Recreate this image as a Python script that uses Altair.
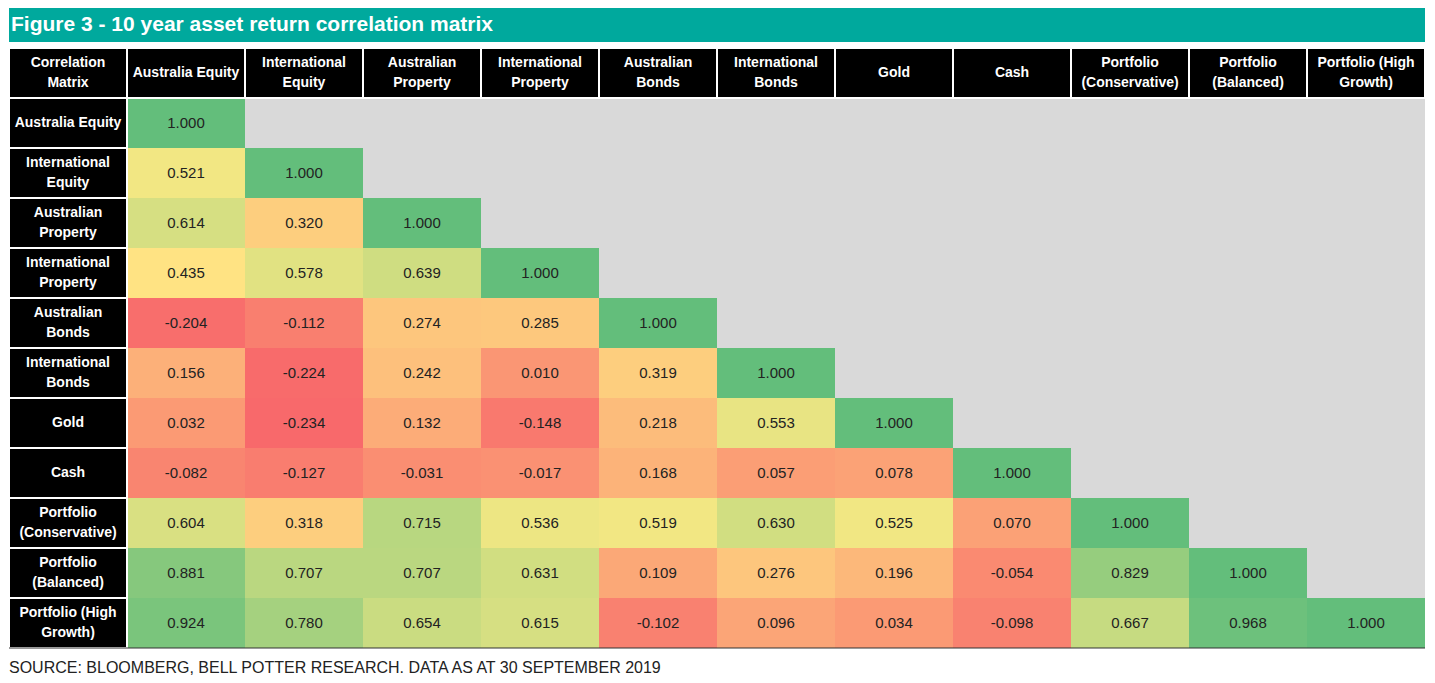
import altair as alt
import pandas as pd

title_text = "Figure 3 - 10 year asset return correlation matrix"
source_text = "SOURCE: BLOOMBERG, BELL POTTER RESEARCH. DATA AS AT 30 SEPTEMBER 2019"
corner_label = "Correlation\nMatrix"

assets = ["Australia Equity", "International Equity", "Australian Property",
          "International Property", "Australian Bonds", "International Bonds",
          "Gold", "Cash", "Portfolio (Conservative)", "Portfolio (Balanced)",
          "Portfolio (High Growth)"]
asset_labels = ["Australia Equity", "International\nEquity", "Australian\nProperty",
                "International\nProperty", "Australian\nBonds", "International\nBonds",
                "Gold", "Cash", "Portfolio\n(Conservative)", "Portfolio\n(Balanced)",
                "Portfolio (High\nGrowth)"]

corr_australia_equity = [1.000]
corr_international_equity = [0.521, 1.000]
corr_australian_property = [0.614, 0.320, 1.000]
corr_international_property = [0.435, 0.578, 0.639, 1.000]
corr_australian_bonds = [-0.204, -0.112, 0.274, 0.285, 1.000]
corr_international_bonds = [0.156, -0.224, 0.242, 0.010, 0.319, 1.000]
corr_gold = [0.032, -0.234, 0.132, -0.148, 0.218, 0.553, 1.000]
corr_cash = [-0.082, -0.127, -0.031, -0.017, 0.168, 0.057, 0.078, 1.000]
corr_portfolio_conservative = [0.604, 0.318, 0.715, 0.536, 0.519, 0.630, 0.525, 0.070, 1.000]
corr_portfolio_balanced = [0.881, 0.707, 0.707, 0.631, 0.109, 0.276, 0.196, -0.054, 0.829, 1.000]
corr_portfolio_high_growth = [0.924, 0.780, 0.654, 0.615, -0.102, 0.096, 0.034, -0.098, 0.667, 0.968, 1.000]

corr_rows = [corr_australia_equity, corr_international_equity, corr_australian_property,
             corr_international_property, corr_australian_bonds, corr_international_bonds,
             corr_gold, corr_cash, corr_portfolio_conservative, corr_portfolio_balanced,
             corr_portfolio_high_growth]

# Excel-style 3-colour scale: min / 50th percentile / max
color_min, color_mid, color_max = -0.234, 0.477, 1.000

FONT = "Liberation Sans"
HDR = "__header"
LBL = "__label"

cells = []
for i, row in enumerate(corr_rows):
    for j, v in enumerate(row):
        cells.append({"row": assets[i], "col": assets[j], "value": v, "label": f"{v:.3f}"})
cells_df = pd.DataFrame(cells)

heads = [{"row": HDR, "col": LBL, "text": corner_label}]
for j, a in enumerate(assets):
    heads.append({"row": HDR, "col": a, "text": asset_labels[j]})
for i, a in enumerate(assets):
    heads.append({"row": a, "col": LBL, "text": asset_labels[i]})
heads_df = pd.DataFrame(heads)

# split header texts into lines (single line / first of two / second of two)
single, first, second = [], [], []
for h in heads:
    parts = h["text"].split("\n")
    if len(parts) == 1:
        single.append({"row": h["row"], "col": h["col"], "t": parts[0]})
    else:
        first.append({"row": h["row"], "col": h["col"], "t": parts[0]})
        second.append({"row": h["row"], "col": h["col"], "t": parts[1]})

x_dom = [LBL] + assets
y_dom = [HDR] + assets
xs = alt.Scale(domain=x_dom, paddingInner=0, paddingOuter=0)
ys = alt.Scale(domain=y_dom, paddingInner=0, paddingOuter=0)

X = alt.X("col:N", scale=xs, axis=None, sort=x_dom)
Y = alt.Y("row:N", scale=ys, axis=None, sort=y_dom)

cell_rect = alt.Chart(cells_df).mark_rect().encode(
    x=X, y=Y,
    color=alt.Color("value:Q", legend=None,
                    scale=alt.Scale(domain=[color_min, color_mid, color_max],
                                    range=["#F8696B", "#FFEB84", "#63BE7B"],
                                    interpolate="rgb")),
)
cell_text = alt.Chart(cells_df).mark_text(font=FONT, fontSize=15, color="#222222").encode(
    x=X, y=Y, text="label:N"
)
head_rect = alt.Chart(heads_df).mark_rect(fill="#000000", stroke="#FFFFFF", strokeWidth=2).encode(
    x=X, y=Y
)


def head_text(rows, dy):
    return alt.Chart(pd.DataFrame(rows)).mark_text(
        font=FONT, fontSize=14, fontWeight="bold", color="#FFFFFF",
        baseline="middle", dy=dy
    ).encode(x=X, y=Y, text="t:N")


bottom_rule = alt.Chart(pd.DataFrame({"row": [assets[-1]]})).mark_rule(
    color="#333333", strokeWidth=1
).encode(y=alt.Y("row:N", scale=ys, axis=None, sort=y_dom, bandPosition=1))

table = alt.layer(
    cell_rect, head_rect, cell_text,
    head_text(single, 0), head_text(first, -10), head_text(second, 10),
    bottom_rule
).properties(
    width=1416, height=600,
    view=alt.ViewBackground(fill="#D9D9D9", strokeWidth=0),
)

title_chart = alt.Chart(pd.DataFrame({"t": [title_text]})).mark_text(
    font=FONT, fontSize=21, fontWeight="bold", color="#FFFFFF",
    align="left", baseline="middle"
).encode(text="t:N", x=alt.value(2), y=alt.value(17)).properties(
    width=1416, height=34,
    view=alt.ViewBackground(fill="#00A99D", strokeWidth=0),
)

source_chart = alt.Chart(pd.DataFrame({"t": [source_text]})).mark_text(
    font=FONT, fontSize=16, color="#222222", align="left", baseline="middle"
).encode(text="t:N", x=alt.value(0), y=alt.value(14)).properties(
    width=1416, height=22,
    view=alt.ViewBackground(fill="#FFFFFF", strokeWidth=0),
)

chart = alt.vconcat(title_chart, table, source_chart, spacing=5).properties(
    padding=0
).configure_view(strokeWidth=0).configure(background="#FFFFFF")

chart.save("out.html", embed_options={"renderer": "svg", "actions": False})
